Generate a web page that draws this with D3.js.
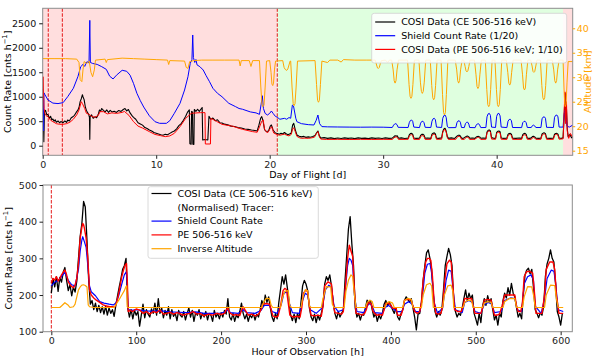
<!DOCTYPE html>
<html>
<head>
<meta charset="utf-8">
<script src="https://cdn.jsdelivr.net/npm/d3@7"></script>
<style>
  body { margin: 0; background: #fff; }
  svg { display: block; font-family: "DejaVu Sans", sans-serif; }
</style>
</head>
<body>
<svg id="chart" width="598" height="364"></svg>
<script>
// ---- top panel : whole flight, [day, value] ----
var flightCE = [[0.0,980],[0.05,700],[0.1,82],[0.15,690],[0.25,720],[0.35,640],[0.47,630],[0.6,560],[0.7,600],[0.8,530],[0.9,545],[1.0,500],[1.1,530],[1.2,480],[1.35,505],[1.5,465],[1.6,495],[1.8,470],[1.95,505],[2.1,475],[2.2,525],[2.35,505],[2.5,565],[2.65,590],[2.8,620],[2.95,680],[3.1,725],[3.2,780],[3.3,900],[3.4,960],[3.5,1040],[3.55,1000],[3.65,940],[3.75,800],[3.85,720],[3.95,680],[4.05,640],[4.12,580],[4.15,130],[4.18,600],[4.3,630],[4.45,560],[4.6,590],[4.75,570],[4.9,640],[5.0,730],[5.1,700],[5.2,760],[5.35,720],[5.5,690],[5.65,730],[5.8,680],[5.95,720],[6.1,690],[6.3,705],[6.5,680],[6.7,720],[6.9,700],[7.1,740],[7.25,760],[7.4,710],[7.55,740],[7.7,670],[7.85,620],[8.0,580],[8.2,540],[8.4,470],[8.6,445],[8.8,420],[9.0,370],[9.2,350],[9.4,320],[9.6,300],[9.8,270],[10.0,255],[10.2,240],[10.4,225],[10.6,215],[10.8,232],[11.0,225],[11.2,252],[11.4,280],[11.6,300],[11.8,345],[12.0,410],[12.2,450],[12.4,520],[12.6,600],[12.75,680],[12.92,730],[12.97,40],[13.08,30],[13.12,700],[13.2,690],[13.23,30],[13.32,25],[13.36,740],[13.5,700],[13.65,745],[13.8,700],[13.95,750],[14.05,780],[14.1,116],[14.3,125],[14.55,116],[14.65,600],[14.8,540],[15.0,565],[15.2,510],[15.4,530],[15.6,470],[15.8,465],[16.0,440],[16.3,425],[16.6,400],[16.9,392],[17.2,370],[17.5,362],[17.8,340],[18.1,333],[18.4,320],[18.7,312],[18.9,300],[19.05,420],[19.2,560],[19.3,593],[19.4,520],[19.55,330],[19.7,290],[19.9,300],[20.05,400],[20.15,423],[20.3,320],[20.5,260],[20.67,250],[20.85,235],[21.0,255],[21.15,240],[21.3,270],[21.45,245],[21.6,225],[21.75,240],[21.9,260],[22.02,420],[22.12,457],[22.25,330],[22.4,220],[22.6,195],[22.8,180],[23.0,190],[23.2,170],[23.4,180],[23.6,172],[23.8,190],[24.0,210],[24.12,260],[24.25,300],[24.38,200],[24.5,155],[24.8,165],[25.1,150],[25.4,160],[25.7,145],[26.0,158],[26.3,148],[26.6,160],[26.9,150],[27.2,158],[27.5,145],[27.8,160],[28.1,150],[28.4,155],[28.7,145],[29.0,160],[29.3,150],[29.6,158],[29.9,148],[30.2,160],[30.5,150],[30.8,155],[30.95,185],[31.05,205],[31.15,195],[31.25,200],[31.35,152],[31.6,160],[31.9,148],[32.2,155],[32.3,220],[32.4,248],[32.5,253],[32.6,235],[32.7,158],[32.9,150],[33.2,155],[33.3,210],[33.4,232],[33.5,235],[33.6,215],[33.7,152],[33.9,158],[34.2,150],[34.3,235],[34.4,255],[34.5,262],[34.6,240],[34.7,155],[34.9,150],[35.15,160],[35.25,290],[35.35,340],[35.45,355],[35.55,300],[35.65,190],[35.75,150],[36.0,160],[36.3,148],[36.5,195],[36.6,212],[36.7,215],[36.8,200],[36.9,155],[37.05,150],[37.25,180],[37.35,192],[37.45,195],[37.55,180],[37.62,152],[37.85,158],[38.1,150],[38.2,178],[38.3,188],[38.4,190],[38.5,180],[38.6,152],[38.8,158],[39.05,150],[39.15,280],[39.25,315],[39.35,321],[39.45,300],[39.55,165],[39.7,155],[39.9,150],[40.0,270],[40.1,295],[40.2,300],[40.3,285],[40.4,158],[40.6,150],[40.9,155],[41.0,230],[41.1,250],[41.2,253],[41.3,235],[41.4,155],[41.7,150],[42.0,158],[42.2,150],[42.3,225],[42.4,248],[42.5,253],[42.6,232],[42.7,155],[42.9,150],[43.05,160],[43.15,185],[43.25,192],[43.35,180],[43.45,152],[43.7,150],[43.9,155],[44.0,240],[44.1,258],[44.2,262],[44.3,245],[44.4,155],[44.7,150],[45.0,155],[45.1,235],[45.2,250],[45.3,253],[45.4,235],[45.5,158],[45.7,150],[45.85,160],[45.95,600],[46.02,1070],[46.08,520],[46.14,820],[46.22,350],[46.3,180],[46.45,230],[46.6,160],[46.7,180]];

var flightShield = [[0.0,1150],[0.05,1120],[0.08,300],[0.11,1080],[0.2,1040],[0.47,933],[0.9,870],[1.35,860],[1.8,880],[2.2,1000],[2.7,1172],[3.1,1409],[3.35,1614],[3.55,1660],[3.7,1620],[3.9,1716],[4.08,1690],[4.15,2560],[4.2,1700],[4.4,1680],[4.8,1660],[5.2,1614],[5.6,1560],[5.9,1420],[6.2,1363],[6.5,1440],[7.0,1540],[7.4,1520],[7.7,1440],[8.0,1273],[8.3,1070],[8.6,920],[8.9,790],[9.4,610],[9.9,490],[10.3,457],[10.9,457],[11.2,511],[11.6,662],[12.1,866],[12.5,1137],[12.8,1409],[13.0,1683],[13.15,1760],[13.22,2261],[13.28,1800],[13.4,1700],[13.5,1760],[13.6,1650],[13.85,1614],[14.14,1546],[14.4,1430],[14.7,1307],[15.0,1172],[15.4,1070],[15.8,1000],[16.4,866],[17.0,797],[17.3,760],[17.6,745],[18.3,690],[18.8,670],[19.1,640],[19.25,850],[19.35,1021],[19.45,760],[19.6,660],[19.8,627],[20.0,660],[20.15,709],[20.3,660],[20.5,600],[20.67,580],[20.9,540],[21.3,559],[21.5,540],[21.7,575],[21.85,560],[22.0,831],[22.1,810],[22.3,560],[22.4,490],[22.8,450],[23.4,430],[23.9,423],[24.1,520],[24.25,627],[24.4,450],[24.6,390],[25.1,385],[26,382],[27,380],[28,378],[29,380],[30,378],[30.8,372],[30.92,420],[31.02,445],[31.12,450],[31.22,430],[31.32,375],[32.2,372],[32.3,470],[32.4,515],[32.5,525],[32.6,500],[32.7,380],[33.2,370],[33.3,460],[33.4,495],[33.5,500],[33.6,470],[33.7,375],[34.2,372],[34.3,500],[34.4,550],[34.5,560],[34.6,530],[34.7,380],[35.15,372],[35.25,560],[35.35,615],[35.45,627],[35.55,580],[35.65,400],[35.75,368],[36.4,370],[36.5,470],[36.6,505],[36.7,510],[36.8,480],[36.9,372],[37.15,370],[37.25,450],[37.35,478],[37.45,480],[37.55,440],[37.62,372],[38.1,368],[38.2,420],[38.3,445],[38.4,450],[38.5,420],[38.6,370],[39.05,372],[39.15,590],[39.25,650],[39.35,661],[39.45,620],[39.55,380],[39.9,372],[40.0,600],[40.1,655],[40.2,661],[40.3,610],[40.4,380],[40.9,370],[41.0,500],[41.1,535],[41.2,540],[41.3,510],[41.4,372],[42.2,370],[42.3,470],[42.4,495],[42.5,500],[42.6,470],[42.7,372],[43.05,372],[43.15,410],[43.25,420],[43.35,405],[43.45,372],[43.9,372],[44.0,550],[44.1,585],[44.2,590],[44.3,560],[44.4,375],[45.0,372],[45.1,580],[45.2,620],[45.3,627],[45.4,590],[45.5,380],[45.85,380],[45.95,650],[46.02,729],[46.1,600],[46.2,400],[46.4,380],[46.7,420]];

var flightPE = [[0.0,1000],[0.03,1409],[0.07,1100],[0.12,760],[0.2,660],[0.35,600],[0.47,593],[0.7,520],[0.9,491],[1.2,450],[1.5,437],[1.8,437],[2.1,450],[2.4,480],[2.7,540],[3.0,630],[3.2,730],[3.4,899],[3.5,860],[3.7,760],[3.85,662],[4.1,640],[4.3,600],[4.6,580],[4.9,620],[5.05,695],[5.35,695],[5.7,650],[6.1,670],[6.5,660],[7.0,680],[7.2,700],[7.6,620],[8.0,491],[8.4,400],[8.8,360],[9.4,287],[9.9,230],[10.4,205],[10.8,185],[11.2,200],[11.6,253],[12.1,389],[12.6,559],[13.1,662],[13.9,675],[14.3,675],[14.33,35],[14.78,35],[14.82,559],[15.3,500],[15.8,436],[16.7,400],[17.6,335],[18.5,287],[18.9,275],[19.1,380],[19.3,500],[19.43,525],[19.55,330],[19.8,260],[20.05,350],[20.18,389],[20.35,260],[20.67,225],[20.9,215],[21.1,225],[21.3,235],[21.5,215],[21.7,200],[21.9,230],[22.02,340],[22.12,368],[22.25,290],[22.4,190],[22.6,165],[22.8,150],[23.1,155],[23.4,150],[23.7,160],[23.95,175],[24.12,250],[24.25,287],[24.38,180],[24.5,135],[25.0,128],[26,130],[27,127],[28,130],[29,128],[30,130],[30.8,128],[30.95,160],[31.05,175],[31.15,180],[31.25,172],[31.35,128],[32.2,130],[32.3,195],[32.4,220],[32.5,225],[32.6,210],[32.7,130],[33.2,128],[33.3,185],[33.4,202],[33.5,205],[33.6,190],[33.7,128],[34.2,130],[34.3,210],[34.4,230],[34.5,235],[34.6,215],[34.7,130],[35.15,132],[35.25,270],[35.35,320],[35.45,330],[35.55,280],[35.65,170],[35.75,128],[36.4,130],[36.5,170],[36.6,188],[36.7,190],[36.8,178],[36.9,130],[37.15,128],[37.25,160],[37.35,170],[37.45,172],[37.55,160],[37.62,128],[38.1,130],[38.2,155],[38.3,167],[38.4,170],[38.5,158],[38.6,128],[39.05,130],[39.15,260],[39.25,292],[39.35,300],[39.45,280],[39.55,135],[39.9,130],[40.0,245],[40.1,272],[40.2,278],[40.3,260],[40.4,132],[40.9,128],[41.0,205],[41.1,225],[41.2,228],[41.3,210],[41.4,130],[42.2,128],[42.3,200],[42.4,220],[42.5,225],[42.6,205],[42.7,130],[43.05,130],[43.15,160],[43.25,168],[43.35,158],[43.45,130],[43.9,130],[44.0,215],[44.1,235],[44.2,240],[44.3,222],[44.4,130],[45.0,130],[45.1,210],[45.2,228],[45.3,232],[45.4,215],[45.5,132],[45.85,140],[45.95,700],[46.02,1100],[46.08,450],[46.15,900],[46.22,300],[46.35,150],[46.5,250],[46.7,170]];

// altitude in km, right axis
var flightAltitude = [[0.0,33.8],[1.0,33.8],[2.0,33.8],[3.0,33.7],[3.2,33.0],[3.3,29.5],[3.45,29.1],[3.55,31.5],[3.65,33.2],[3.9,32.8],[4.1,33.3],[4.25,31.0],[4.4,30.1],[4.55,31.5],[4.65,33.5],[5.5,33.7],[5.6,33.0],[5.7,33.6],[7.0,33.9],[8.0,33.8],[9.0,33.7],[10.0,33.6],[11.0,33.5],[11.1,32.6],[11.2,33.4],[12.5,33.3],[12.65,32.0],[12.8,31.8],[12.95,33.2],[13.3,33.4],[14,33.5],[15,33.5],[16,33.5],[17.3,33.5],[17.4,32.3],[17.5,33.4],[18.2,33.4],[18.35,32.2],[18.5,33.4],
  [19.1,33.4],[19.22,28],[19.32,24.4],[19.4,24.0],[19.5,24.3],[19.6,28],[19.72,33.3],
  [20.0,33.4],[20.12,31],[20.2,28.6],[20.27,28.3],[20.34,28.8],[20.42,31.5],[20.52,33.3],
  [21.15,33.4],[21.27,32],[21.37,31.6],[21.5,31.4],[21.6,31.7],[21.7,32.5],[21.8,33.3],
  [21.85,33.3],[21.97,28],[22.07,24.6],[22.15,24.2],[22.23,24.6],[22.33,28],[22.45,33.3],
  [24.0,33.4],[24.13,28.5],[24.22,25.3],[24.3,24.9],[24.38,25.3],[24.47,28.5],[24.6,33.3],
  [25.1,33.0],[25.3,33.5],[26.0,33.5],[26.3,33.1],[26.5,33.6],[27.5,33.5],[28.5,33.5],
  [29.3,33.5],[29.42,32.5],[29.5,31.9],[29.58,31.8],[29.66,32],[29.75,32.8],[29.85,33.4],
  [30.2,33.5],[30.4,33.0],[30.55,33.5],
  [30.75,33.5],[30.88,31.5],[30.97,29.3],[31.05,28.8],[31.13,29.3],[31.22,31.5],[31.35,33.5],
  [32.15,33.5],[32.28,28.5],[32.37,26.1],[32.45,25.7],[32.53,26.1],[32.62,28.5],[32.75,33.5],
  [33.15,33.5],[33.28,29],[33.37,27.1],[33.45,26.7],[33.53,27.1],[33.62,29],[33.75,33.5],
  [34.15,33.5],[34.28,28.3],[34.37,25.8],[34.45,25.4],[34.53,25.8],[34.62,28.3],[34.75,33.5],
  [35.1,33.5],[35.23,26.5],[35.32,22.8],[35.4,22.3],[35.48,22.8],[35.57,26.5],[35.7,33.5],
  [36.35,33.5],[36.48,31.5],[36.57,29.3],[36.65,28.8],[36.73,29.3],[36.82,31.5],[36.95,33.5],
  [37.1,33.5],[37.22,32.2],[37.3,31.3],[37.38,31.1],[37.46,31.3],[37.55,32.2],[37.65,33.5],
  [38.05,33.5],[38.18,30.5],[38.27,28.1],[38.35,27.7],[38.43,28.1],[38.52,30.5],[38.65,33.5],
  [39.0,33.5],[39.13,27.5],[39.22,24.4],[39.3,24.0],[39.38,24.4],[39.47,27.5],[39.6,33.5],
  [39.85,33.5],[39.98,27.5],[40.07,24.4],[40.15,24.0],[40.23,24.4],[40.32,27.5],[40.45,33.5],
  [40.85,33.5],[40.98,31],[41.07,28.8],[41.15,28.4],[41.23,28.8],[41.32,31],[41.45,33.5],
  [42.15,33.5],[42.28,30.5],[42.37,27.8],[42.45,27.4],[42.53,27.8],[42.62,30.5],[42.75,33.5],
  [43.0,33.5],[43.12,32.3],[43.2,31.2],[43.28,31],[43.36,31.2],[43.45,32.3],[43.55,33.5],
  [43.85,33.5],[43.98,28.3],[44.07,25.8],[44.15,25.4],[44.23,25.8],[44.32,28.3],[44.45,33.5],
  [44.9,33.5],[45.03,31.5],[45.12,29.3],[45.2,28.8],[45.28,29.3],[45.37,31.5],[45.5,33.5],
  [45.85,33.5],[45.93,28],[46.0,24.4],[46.05,24],[46.12,24.5],[46.2,29],[46.3,33.2],[46.7,33.2]];

var flightPhases = [0, 20.67, 45.85, 46.7];
var flightMarkers = [0.49, 1.73, 20.67];

// ---- bottom panel : observation, hours ----
// CE counts every 2 h from hour 0
var ceStep = 2;
var obsCE = [205,245,222,250,210,248,235,262,275,240, 212,228,198,222,208,238,300,360,395,455,
  440,350,240,175,185,160,178,155,172,152, 168,148,170,145,165,150,160,142,172,198,
  222,245,270,280,300,165,140,160,135,158, 145,155,115,145,175,138,160,148,140,162,
  150,178,145,190,150,165,138,158,145,168, 135,160,142,150,130,158,145,140,155,132,
  150,165,140,158,128,152,145,160,135,150, 140,155,132,150,145,128,158,140,150,135,
  152,140,158,148,190,140,132,150,128,145, 138,155,178,150,135,148,128,145,138,150,
  132,148,140,160,185,170,200,180,195,165, 140,128,150,135,180,215,250,230,255,220,
  185,145,130,148,125,150,135,178,225,240, 230,212,165,140,130,148,125,145,132,150,
  170,230,250,240,255,225,180,150,135,155, 140,150,160,240,310,380,414,340,280,165,
  140,150,132,148,145,165,186,175,185,160, 140,150,128,145,135,150,175,185,170,180,
  172,160,150,165,140,132,150,160,185,195, 188,180,190,165,140,105,148,150,180,240,
  280,315,323,300,270,200,155,140,155,145, 160,215,280,305,327,310,280,185,155,140,
  150,145,165,190,214,185,205,190,200,150, 135,118,150,125,170,190,172,198,180,190,
  160,132,145,118,150,140,185,205,192,220, 200,232,205,195,165,140,150,135,200,255,
  268,273,258,270,220,160,150,138,152,145, 170,250,285,300,323,300,290,230,155,140,
  118,150];

var obsShield = [[0,225],[4,235],[8,240],[12,250],[16,262],[20,240],[24,228],[28,225],[32,270],[34,320],[36,350],[37,359],[39,345],[41,330],[43,280],[45,225],[47,209],[52,198],[57,182],[62,178],[68,175],[73,173],[76,178],[79,195],[83,230],[86,255],[88.5,264],[89.5,220],[90.6,160],[95,158],[100,160],[110,157],[120,156],[130,157],[140,154],[150,153],[160,152],[170,154],[180,150],[190,150],[200,151],[205,154],[208,160],[211,152],[220,150],[226,160],[230,152],[240,150],[247,158],[251,172],[257,172],[260,155],[266,150],[271,175],[274,205],[278,209],[280,180],[284,152],[292,150],[296,185],[299,205],[302,200],[305,160],[312,150],[319,165],[323,215],[327,227],[330,220],[333,170],[338,155],[344,160],[347,230],[349,280],[351,300],[353,295],[355,280],[357,200],[360,155],[368,152],[372,170],[375,178],[378,170],[381,152],[390,150],[393,165],[397,172],[401,165],[407,155],[413,155],[416,175],[421,182],[425,175],[429,155],[434,155],[437,190],[440,260],[443,284],[446,286],[448,260],[451,180],[455,150],[461,165],[465,240],[468,268],[471,265],[473,220],[476,160],[484,152],[487,180],[492,185],[496,180],[499,155],[506,150],[510,175],[515,180],[519,175],[522,152],[530,155],[534,185],[541,192],[546,190],[549,160],[554,155],[557,230],[561,250],[565,255],[568,240],[570,170],[577,150],[581,190],[584,245],[589,268],[592,265],[594,235],[597,160],[603,155]];

var obsPE = [[0,232],[2,245],[4,241],[6,250],[8,238],[10,245],[12,255],[14,262],[16,268],[18,255],[20,236],[22,228],[24,223],[26,220],[28,227],[30,245],[32,286],[34,355],[36,385],[37,395],[38,392],[39,382],[41,355],[43,300],[45,214],[47,200],[50,192],[53,186],[57,180],[61,173],[65,170],[69,168],[75,168],[77,180],[79,200],[81,225],[83,250],[85,268],[87,282],[88.6,286],[89.5,240],[90.6,155],[93,158],[96,155],[100,162],[104,159],[108,150],[112,155],[116,148],[120,155],[124,152],[128,159],[132,148],[136,150],[140,153],[144,148],[148,152],[151,150],[155,145],[159,148],[163,150],[167,155],[171,148],[175,150],[180,143],[185,148],[190,145],[195,150],[200,147],[204,150],[206,160],[208,164],[210,152],[214,145],[218,147],[222,144],[224,158],[226,168],[228,160],[232,145],[236,148],[240,143],[244,147],[247,160],[249,175],[253,177],[257,175],[259,160],[261,143],[264,140],[267,142],[270,170],[273,212],[275,218],[277,215],[279,180],[281,145],[285,140],[289,142],[293,140],[295,165],[297,205],[300,214],[302,208],[304,170],[306,145],[310,143],[314,145],[318,142],[320,170],[322,225],[326,236],[330,230],[332,180],[334,152],[338,150],[342,148],[344,155],[347,241],[349,300],[351,336],[353,320],[355,305],[357,214],[359,150],[363,148],[366,145],[369,150],[371,160],[373,177],[375,180],[377,175],[379,155],[383,145],[387,147],[390,145],[392,160],[394,177],[398,177],[400,172],[402,164],[406,164],[408,145],[412,145],[414,160],[416,186],[420,188],[424,186],[426,170],[428,155],[431,150],[434,155],[436,180],[438,240],[441,290],[443,300],[445,300],[447,295],[449,250],[451,180],[453,150],[456,148],[459,150],[461,170],[463,230],[466,285],[469,295],[471,290],[473,230],[475,160],[479,155],[483,155],[485,170],[487,191],[491,190],[495,191],[497,170],[499,150],[503,150],[506,150],[508,165],[510,186],[514,188],[518,186],[520,165],[522,145],[525,145],[528,148],[531,170],[534,200],[540,200],[546,200],[548,170],[550,155],[553,155],[555,180],[557,250],[560,264],[564,264],[567,260],[569,210],[571,150],[575,150],[578,150],[581,200],[583,270],[587,290],[591,290],[593,270],[595,200],[598,150],[603,150]];

var obsInvAltitude = [[0,166],[10,166],[12,170],[16,179],[20,172],[22,166],[26,168],[28,175],[30,195],[32,214],[34,222],[36,227],[38,228],[40,226],[42,222],[43.5,173],[45,168],[50,166],[60,166],[73,166],[75,170],[77,177],[80,188],[83,200],[86,212],[88,223],[88.8,225],[89.4,168],[90,166],[100,166],[150,166],[200,166],[248,166],[250,180],[253,191],[257,190],[259,172],[261,166],[270,166],[272,190],[275,210],[279,212],[281,170],[283,166],[294,166],[296,190],[299,214],[302,212],[304,170],[306,166],[318,166],[320,190],[324,223],[329,222],[331,175],[333,166],[345,166],[347,210],[350,240],[353,255],[355,250],[357,200],[359,166],[370,166],[372,180],[375,186],[378,182],[380,166],[393,166],[395,178],[398,182],[402,178],[404,166],[414,166],[416,185],[420,191],[424,188],[426,166],[436,166],[438,200],[442,228],[446,232],[448,225],[450,166],[461,166],[463,200],[467,225],[471,227],[473,210],[474,166],[485,166],[487,180],[491,186],[495,184],[497,166],[508,166],[510,178],[514,182],[518,180],[520,166],[532,166],[534,182],[540,191],[546,190],[548,166],[555,166],[557,195],[561,223],[566,222],[568,200],[570,166],[581,166],[583,200],[588,227],[593,226],[595,190],[597,166],[603,166]];

var obsMarkers = [0];

var dayTicks = [0, 10, 20, 30, 40];
var rateTicks = [0, 500, 1000, 1500, 2000, 2500];
var altTicks = [15, 20, 25, 30, 35, 40];
var hourTicks = [0, 100, 200, 300, 400, 500, 600];
var obsRateTicks = [100, 200, 300, 400, 500];

// ---------------------------------------------------------------
var svg = d3.select("#chart");
var FONT = "DejaVu Sans, sans-serif";
var SPINE = "#8c8c8c";

var pTop = {l: 42.7, r: 572.7, t: 8.3, b: 155.3};
var pBot = {l: 43, r: 572.3, t: 185, b: 331.7};

var xDay = d3.scaleLinear().domain([0, 46.7]).range([pTop.l, pTop.r]);
var yRate = d3.scaleLinear().domain([-196, 2806]).range([pTop.b, pTop.t]);
var yAlt = d3.scaleLinear().domain([14.06, 44.08]).range([pTop.b, pTop.t]);
var xHour = d3.scaleLinear().domain([-9.8, 613.7]).range([pBot.l, pBot.r]);
var yObs = d3.scaleLinear().domain([100, 500]).range([pBot.b, pBot.t]);

var defs = svg.append("defs");
function clip(id, p) {
  defs.append("clipPath").attr("id", id).append("rect")
    .attr("x", p.l).attr("y", p.t).attr("width", p.r - p.l).attr("height", p.b - p.t);
}
clip("clipTop", pTop);
clip("clipBot", pBot);

function drawLine(g, data, x, y, color, width) {
  g.append("path").datum(data)
    .attr("fill", "none").attr("stroke", color).attr("stroke-width", width)
    .attr("stroke-linejoin", "round")
    .attr("d", d3.line().x(function(d) { return x(d[0]); }).y(function(d) { return y(d[1]); }));
}

function styleAxis(g, color) {
  g.select(".domain").remove();
  g.selectAll(".tick line").attr("stroke", color);
  g.selectAll(".tick text").attr("fill", color).attr("font-family", FONT).attr("font-size", "9.5px");
}

// ===================== top panel =====================
var gTop = svg.append("g").attr("clip-path", "url(#clipTop)");

var phaseColors = ["#ffdede", "#dfffdf", "#ffdede"];
for (var i = 0; i < flightPhases.length - 1; i++) {
  gTop.append("rect")
    .attr("x", xDay(flightPhases[i])).attr("y", pTop.t)
    .attr("width", xDay(flightPhases[i + 1]) - xDay(flightPhases[i]))
    .attr("height", pTop.b - pTop.t)
    .attr("fill", phaseColors[i]);
}

flightMarkers.forEach(function(d) {
  gTop.append("line")
    .attr("x1", xDay(d)).attr("x2", xDay(d)).attr("y1", pTop.t).attr("y2", pTop.b)
    .attr("stroke", "#e00000").attr("stroke-width", 0.9).attr("stroke-dasharray", "3.5,1.5");
});

drawLine(gTop, flightCE, xDay, yRate, "#000000", 1.1);
drawLine(gTop, flightShield, xDay, yRate, "#0000ff", 1);
drawLine(gTop, flightPE, xDay, yRate, "#ff0000", 1);
drawLine(gTop, flightAltitude, xDay, yAlt, "#ffa500", 1);

svg.append("rect").attr("x", pTop.l).attr("y", pTop.t)
  .attr("width", pTop.r - pTop.l).attr("height", pTop.b - pTop.t)
  .attr("fill", "none").attr("stroke", SPINE).attr("stroke-width", 1);

svg.append("g").attr("transform", "translate(0," + pTop.b + ")")
  .call(d3.axisBottom(xDay).tickValues(dayTicks).tickSize(3.5).tickPadding(2))
  .call(styleAxis, "#222");
svg.append("g").attr("transform", "translate(" + pTop.r + ",0)")
  .call(d3.axisRight(yAlt).tickValues(altTicks).tickSize(2.5).tickPadding(1.5))
  .call(styleAxis, "#ffa500");

svg.append("text").attr("x", (pTop.l + pTop.r) / 2).attr("y", 178.3)
  .attr("text-anchor", "middle").attr("font-family", FONT).attr("font-size", "9.5px")
  .text("Day of Flight [d]");

function rateLabel(cx, cy) {
  var t = svg.append("text")
    .attr("transform", "translate(" + cx + "," + cy + ") rotate(-90)")
    .attr("text-anchor", "middle").attr("font-family", FONT).attr("font-size", "9.5px");
  t.append("tspan").text("Count Rate [cnts h");
  t.append("tspan").attr("dy", -3.5).attr("font-size", "6.8px").text("\u22121");
  t.append("tspan").attr("dy", 3.5).text("]");
}
rateLabel(10.5, (pTop.t + pTop.b) / 2);

svg.append("text")
  .attr("transform", "translate(590.5," + ((pTop.t + pTop.b) / 2) + ") rotate(-90)")
  .attr("text-anchor", "middle").attr("font-family", FONT).attr("font-size", "9.5px")
  .attr("fill", "#ffa500").text("Altitude [km]");

// count-rate ticks of the top panel, drawn after its label
svg.append("g").attr("class", "yaxis-top").attr("transform", "translate(" + pTop.l + ",0)")
  .call(d3.axisLeft(yRate).tickValues(rateTicks).tickFormat(d3.format("d")).tickSize(3.5).tickPadding(3))
  .call(styleAxis, "#111");

// legends
function legend(box, rows) {
  var g = svg.append("g");
  g.append("rect").attr("x", box.x).attr("y", box.y).attr("width", box.w).attr("height", box.h)
    .attr("rx", 2.5).attr("fill", "#fff").attr("fill-opacity", 0.85)
    .attr("stroke", "#d0d0d0").attr("stroke-width", 0.8);
  rows.forEach(function(r, k) {
    var cy = box.y + box.first + k * box.step;
    if (r.color) {
      g.append("line").attr("x1", box.x + 3.5).attr("x2", box.x + 23.5)
        .attr("y1", cy).attr("y2", cy).attr("stroke", r.color).attr("stroke-width", 1.2);
    }
    g.append("text").attr("x", box.x + 29.5).attr("y", cy).attr("dy", "0.35em")
      .attr("font-family", FONT).attr("font-size", "9.5px").attr("fill", "#000").text(r.label);
  });
}

legend({x: 371.7, y: 13.3, w: 195, h: 49.7, first: 8.7, step: 13.7}, [
  {label: "COSI Data (CE 506-516 keV)", color: "#000000"},
  {label: "Shield Count Rate (1/20)", color: "#0000ff"},
  {label: "COSI Data (PE 506-516 keV; 1/10)", color: "#ff0000"}
]);

// ===================== bottom panel =====================
var gBot = svg.append("g").attr("clip-path", "url(#clipBot)");

obsMarkers.forEach(function(d) {
  gBot.append("line")
    .attr("x1", xHour(d)).attr("x2", xHour(d)).attr("y1", pBot.t).attr("y2", pBot.b)
    .attr("stroke", "#e00000").attr("stroke-width", 0.9).attr("stroke-dasharray", "3.5,1.5");
});

var obsCEPairs = obsCE.map(function(v, k) { return [k * ceStep, v]; });
drawLine(gBot, obsCEPairs, xHour, yObs, "#000000", 1.3);
drawLine(gBot, obsShield, xHour, yObs, "#0000ff", 1.2);
drawLine(gBot, obsPE, xHour, yObs, "#ff0000", 1.4);
drawLine(gBot, obsInvAltitude, xHour, yObs, "#ffa500", 1.2);

svg.append("rect").attr("x", pBot.l).attr("y", pBot.t)
  .attr("width", pBot.r - pBot.l).attr("height", pBot.b - pBot.t)
  .attr("fill", "none").attr("stroke", SPINE).attr("stroke-width", 1);

svg.append("g").attr("transform", "translate(0," + pBot.b + ")")
  .call(d3.axisBottom(xHour).tickValues(hourTicks).tickSize(3.5).tickPadding(2))
  .call(styleAxis, "#222");
svg.append("g").attr("transform", "translate(" + pBot.l + ",0)")
  .call(d3.axisLeft(yObs).tickValues(obsRateTicks).tickSize(3.5).tickPadding(2.5))
  .call(styleAxis, "#222");

svg.append("text").attr("x", (pBot.l + pBot.r) / 2).attr("y", 354.6)
  .attr("text-anchor", "middle").attr("font-family", FONT).attr("font-size", "9.5px")
  .text("Hour of Observation [h]");
rateLabel(11.5, (pBot.t + pBot.b) / 2);

legend({x: 148, y: 186.7, w: 170.3, h: 71.6, first: 6.8, step: 13.8}, [
  {label: "COSI Data (CE 506-516 keV)", color: "#000000"},
  {label: "(Normalised) Tracer:", color: null},
  {label: "Shield Count Rate", color: "#0000ff"},
  {label: "PE 506-516 keV", color: "#ff0000"},
  {label: "Inverse Altitude", color: "#ffa500"}
]);
</script>
</body>
</html>
